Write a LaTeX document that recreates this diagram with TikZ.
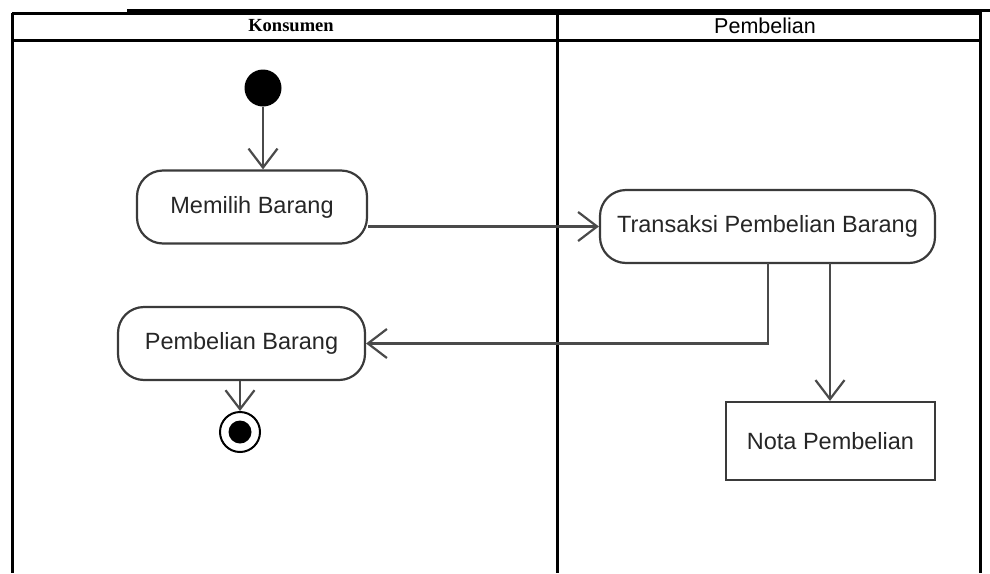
\documentclass[tikz,border=0pt]{standalone}
\usepackage{fontspec}
\setmainfont{Liberation Sans}
\newfontfamily\laneserif{Liberation Serif}
\usetikzlibrary{arrows.meta}
\definecolor{edgegray}{HTML}{3A3A3A}
\definecolor{flowgray}{HTML}{4A4A4A}
\begin{document}
\begin{tikzpicture}[x=1pt,y=-1pt,
  action/.style={draw=edgegray,line width=2.2pt,rounded corners=26pt,
    inner sep=0pt,font=\fontsize{23.5}{26}\selectfont,text=black!85},
  objbox/.style={draw=edgegray,line width=2.2pt,inner sep=0pt,
    font=\fontsize{23.5}{26}\selectfont,text=black!85},
  flow/.style={draw=flowgray,line width=2.2pt,
    -{Straight Barb[length=19pt,width=29pt,line width=2.2pt]}},
  lane/.style={line width=3pt,black}]
\useasboundingbox (0,0) rectangle (990,573);

% swimlane frame
\draw[lane] (127,10) -- (990,10);
\draw[lane] (12,13) -- (980,13);
\draw[lane] (12,40) -- (980,40);
\draw[lane] (12,13) -- (12,573);
\draw[lane] (557,13) -- (557,573);
\draw[lane] (980,10) -- (980,573);

% lane titles
\node (lk) at (291,26) {\laneserif\bfseries\fontsize{18.5}{20}\selectfont Konsumen};
\node (lp) at (765,26) {\fontsize{21.5}{24}\selectfont Pembelian};

% activity nodes
\node[circle,fill=black,minimum size=37pt,inner sep=0pt] (start) at (263,88) {};
\node[action,minimum width=230pt,minimum height=73pt] (pilih) at (252,207) {Memilih Barang};
\node[action,minimum width=335pt,minimum height=73pt] (trans) at (767.5,226.5) {Transaksi Pembelian Barang};
\node[action,minimum width=247pt,minimum height=73pt] (beli) at (241.5,343.5) {Pembelian Barang};
\node[objbox,minimum width=209pt,minimum height=78pt] (nota) at (830.5,441) {Nota Pembelian};
\node[circle,draw=black,line width=2pt,minimum size=40pt,inner sep=0pt] (end) at (240,432) {};
\node[circle,fill=black,minimum size=23pt,inner sep=0pt] (endin) at (end) {};

% control flow
\coordinate (tb1) at (768,263);
\coordinate (tb2) at (830,263);
\draw[flow] (start) -- (start |- pilih.north);
\draw[flow] (pilih.east |- trans.west) -- (trans.west);
\draw[flow] (tb1) |- (beli.east);
\draw[flow] (tb2) -- (tb2 |- nota.north);
\draw[flow] (end |- beli.south) -- (end.north);
\end{tikzpicture}
\end{document}
